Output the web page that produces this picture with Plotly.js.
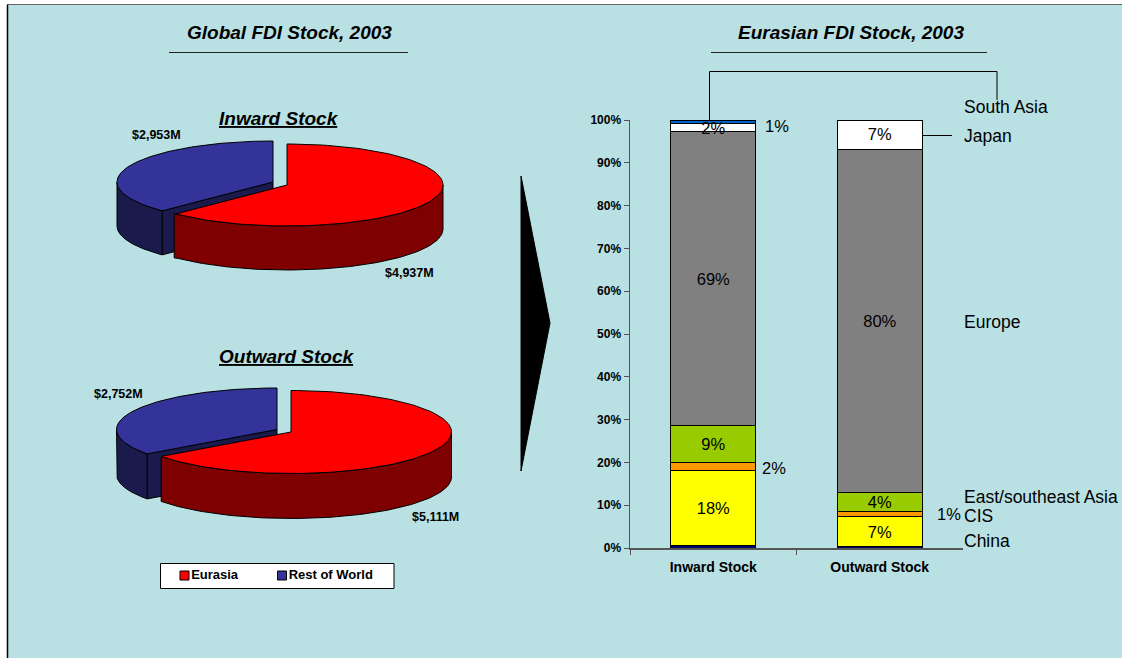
<!DOCTYPE html>
<html><head><meta charset="utf-8">
<script src="https://cdn.plot.ly/plotly-3.0.1.min.js"></script>
<style>html,body{margin:0;padding:0;background:#fff}#c{width:1122px;height:658px}</style>
</head><body><div id="c"></div>
<script>
// ---- data ----
const pieSeries = ["Eurasia", "Rest of World"];
const inwardPie = [4937, 2953];
const outwardPie = [5111, 2752];
const inwardPieLabels = ["$4,937M", "$2,953M"];
const outwardPieLabels = ["$5,111M", "$2,752M"];

const barCategories = ["Inward Stock", "Outward Stock"];
const other      = [0.5, 0.3];
const china      = [17.6, 7.0];
const cis        = [1.9, 1.3];
const eastSE     = [8.6, 4.4];
const europe     = [68.6, 80.2];
const japan      = [1.9, 6.8];
const southAsia  = [0.9, 0.0];
const yTicks = [0,10,20,30,40,50,60,70,80,90,100];
const yTickLabels = yTicks.map(v => v + "%");

const FONT = "Liberation Sans, Arial, sans-serif";
const BG = "#B9E0E3";
const traces = [];

// ---- pseudo-3D pies, computed from the values ----
function pt(cx, cy, rx, ry, deg) {
  const t = deg * Math.PI / 180;
  return [cx + rx * Math.sin(t), cy - ry * Math.cos(t)];
}
function arc(cx, cy, rx, ry, a0, a1) {
  const out = [], n = 120;
  for (let i = 0; i <= n; i++) out.push(pt(cx, cy, rx, ry, a0 + (a1 - a0) * i / n));
  return out;
}
function poly(points, fill, name) {
  const p = points.concat([points[0]]);
  traces.push({type: "scatter", mode: "lines", x: p.map(q => q[0]), y: p.map(q => q[1]),
    fill: "toself", fillcolor: fill, line: {color: "#000", width: 1}, hoverinfo: "skip",
    showlegend: false, name: name, xaxis: "x", yaxis: "y"});
}
function pie3d(vals, red, blue, rx, ry, d, inset) {
  const ang = 360 * vals[0] / (vals[0] + vals[1]);
  const bs = pt(blue[0], blue[1], rx, ry, ang);
  poly([bs, blue, [blue[0], blue[1] + d], [bs[0], bs[1] + d]], "#1A1A4D", pieSeries[1]);
  const bRim = arc(blue[0], blue[1], rx, ry, ang, 270);
  poly(bRim.concat(bRim.slice().reverse().map(q => [q[0], q[1] + d])), "#1A1A4D", pieSeries[1]);
  poly([blue].concat(arc(blue[0], blue[1], rx, ry, ang, 360)), "#333399", pieSeries[1]);
  const rRim = arc(red[0], red[1], rx, ry, 90, ang);
  const e = rRim[rRim.length - 1];
  poly(rRim.concat([[e[0] - inset, e[1]], [e[0] - inset, e[1] + d]],
       rRim.slice().reverse().map(q => [q[0], q[1] + d])), "#7F0000", pieSeries[0]);
  poly([red].concat(arc(red[0], red[1], rx, ry, 0, ang)), "#FF0000", pieSeries[0]);
}
pie3d(inwardPie, [287, 185], [273, 182], 156, 41, 44, 2);
pie3d(outwardPie, [291, 432], [277, 429.5], 160.5, 41.5, 45, 0);

// legend entries: square swatch plus real text, inside the white box shape
pieSeries.forEach((n, i) => traces.push({type: "scatter", mode: "markers+text",
  x: [i ? 282 : 184.5], y: [575.5], text: [n], textposition: "middle right", name: n,
  textfont: {family: FONT, size: 13, weight: 700, color: "#000"},
  marker: {symbol: "square", size: 9, color: i ? "#333399" : "#FF0000", line: {color: "#000", width: 1}},
  xaxis: "x", yaxis: "y", showlegend: false, hoverinfo: "skip"}));

// ---- stacked bars ----
const stack = [
  ["Other", other, "#000066"], ["China", china, "#FFFF00"], ["CIS", cis, "#FF9900"],
  ["East/southeast Asia", eastSE, "#99CC00"], ["Europe", europe, "#808080"],
  ["Japan", japan, "#FFFFFF"], ["South Asia", southAsia, "#0066CC"]
];
stack.forEach(s => traces.push({type: "bar", name: s[0], x: barCategories, y: s[1], width: 0.51,
  marker: {color: s[2], line: {color: "#000", width: 1}}, xaxis: "x2", yaxis: "y2", showlegend: false}));

// in-bar percentage labels at the stack midpoints (small nudge for text centring)
function mid(i, k) {
  let b = 0;
  for (let j = 0; j < k; j++) b += stack[j][1][i];
  return b + stack[k][1][i] / 2 - 0.4;
}
const inBar = [[0, 1, "18%"], [0, 3, "9%"], [0, 4, "69%"], [0, 5, "2%"],
               [1, 1, "7%"], [1, 3, "4%"], [1, 4, "80%"], [1, 5, "7%"]];
traces.push({type: "scatter", mode: "text", x: inBar.map(a => barCategories[a[0]]),
  y: inBar.map(a => mid(a[0], a[1])), text: inBar.map(a => a[2]), textposition: "middle center",
  textfont: {family: FONT, size: 16.5, color: "#000"}, xaxis: "x2", yaxis: "y2", showlegend: false, hoverinfo: "skip"});

// ---- text ----
function note(x, y, text, size, opt) {
  return Object.assign({xref: "x", yref: "y", x: x, y: y, text: text, showarrow: false, xanchor: "center", yanchor: "middle",
    font: Object.assign({family: FONT, size: size, color: "#000"}, (opt || {}).font || {})},
    opt && opt.xanchor ? {xanchor: opt.xanchor} : {});
}
const boldItalic = {font: {weight: 700, style: "italic"}};
const boldItalicU = {font: {weight: 700, style: "italic", lineposition: "under"}};
const boldF = {font: {weight: 700}};
const left = {xanchor: "left"};
const annotations = [
  note(289.5, 32, "Global FDI Stock, 2003", 19, boldItalic),
  note(850.5, 32, "Eurasian FDI Stock, 2003", 19, boldItalic),
  note(278.5, 118, "Inward Stock", 19, boldItalicU),
  note(286.5, 356, "Outward Stock", 19, boldItalicU),
  note(156, 135, inwardPieLabels[1], 12.5, boldF),
  note(409, 273, inwardPieLabels[0], 12.5, boldF),
  note(118, 394, outwardPieLabels[1], 12.5, boldF),
  note(435, 517, outwardPieLabels[0], 12.5, boldF),
  note(777, 126, "1%", 16.5), note(774, 468, "2%", 16.5), note(949, 514, "1%", 16.5),
  note(962, 107, "South Asia", 17.5, left), note(962, 136, "Japan", 17.5, left),
  note(962, 322, "Europe", 17.5, left), note(962, 497, "East/southeast Asia", 17.5, left),
  note(962, 516, "CIS", 17.5, left), note(962, 541, "China", 17.5, left)
];

function seg(x0, y0, x1, y1, color, width) {
  return {type: "line", xref: "x", yref: "y", x0, y0, x1, y1, line: {color, width}};
}
const shapes = [
  {type: "rect", xref: "x", yref: "y", x0: 8, y0: 5, x1: 1122, y1: 658, fillcolor: BG, line: {width: 0}, layer: "below"},
  {type: "rect", xref: "x", yref: "y", x0: 160.5, y0: 563.5, x1: 394, y1: 588.5, fillcolor: "#fff", line: {color: "#000", width: 1}, layer: "below"},
  seg(7.5, 4.5, 1122, 4.5, "#666", 1),
  seg(7.5, 4.5, 7.5, 658, "#000", 1.5),
  seg(169, 52.5, 408, 52.5, "#222", 1),
  seg(711, 52.5, 987, 52.5, "#222", 1),
  {type: "path", xref: "x", yref: "y", path: "M521,176 L550,323 L521,471 Z", fillcolor: "#000", line: {color: "#000", width: 1}},
  seg(709.5, 120, 709.5, 71.5, "#000", 1),
  seg(709.5, 71.5, 997, 71.5, "#000", 1),
  seg(997, 71.5, 997, 100, "#000", 1),
  seg(923, 135.5, 952, 135.5, "#000", 1)
];

const layout = {
  width: 1122, height: 658, margin: {l: 0, r: 0, t: 0, b: 0, pad: 0},
  paper_bgcolor: "#fff", plot_bgcolor: "rgba(0,0,0,0)",
  barmode: "stack", showlegend: false,
  xaxis: {domain: [0, 1], range: [0, 1122], visible: false, fixedrange: true},
  yaxis: {domain: [0, 1], range: [658, 0], visible: false, fixedrange: true},
  xaxis2: {domain: [630 / 1122, 963 / 1122], anchor: "y2", type: "category", range: [-0.5, 1.5],
    showline: true, linecolor: "#555", linewidth: 1.5, ticks: "outside", ticklen: 5, tickcolor: "#555",
    tickson: "boundaries", showgrid: false, zeroline: false, fixedrange: true, ticklabelstandoff: 6,
    tickfont: {family: FONT, size: 14, weight: 700, color: "#000"}},
  yaxis2: {domain: [110 / 658, 538 / 658], anchor: "x2", range: [0, 100], tickvals: yTicks, ticktext: yTickLabels,
    showline: true, linecolor: "#555", linewidth: 1.5, ticks: "outside", ticklen: 5, tickcolor: "#555",
    showgrid: false, zeroline: false, fixedrange: true,
    tickfont: {family: FONT, size: 12, weight: 700, color: "#000"}},
  annotations: annotations, shapes: shapes
};
Plotly.newPlot("c", traces, layout, {displayModeBar: false, staticPlot: true});
</script>
</body></html>
